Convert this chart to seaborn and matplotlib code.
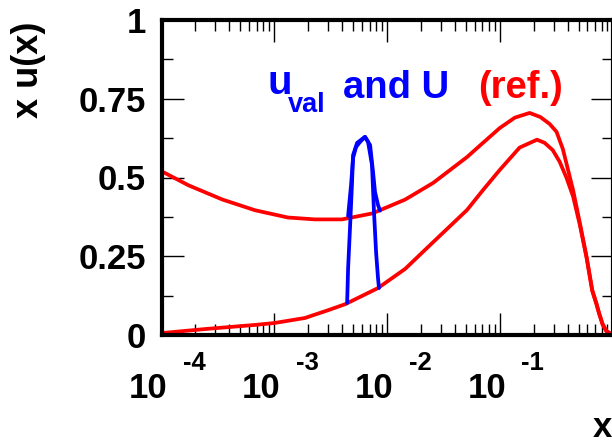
import matplotlib
matplotlib.use("Agg")
import matplotlib.pyplot as plt
from matplotlib.ticker import FixedLocator, FixedFormatter, LogLocator, NullFormatter, MultipleLocator
from matplotlib.transforms import ScaledTranslation
import pandas as pd
import seaborn as sns

# Reference curve U: upper and lower edge of the band
UPPER_X = [1.0e-4, 1.74e-4, 3.47e-4, 6.76e-4, 1.32e-3, 2.29e-3, 3.98e-3, 7.41e-3, 1.45e-2,
           2.57e-2, 5.13e-2, 0.071, 0.100, 0.136, 0.184, 0.229, 0.277, 0.319, 0.363, 0.447,
           0.513, 0.589, 0.661, 0.721, 0.760, 0.817, 0.883, 0.977]
UPPER_Y = [0.52, 0.475, 0.43, 0.396, 0.373, 0.367, 0.367, 0.386, 0.43,
           0.483, 0.565, 0.61, 0.657, 0.69, 0.705, 0.692, 0.67, 0.645, 0.59, 0.46,
           0.356, 0.248, 0.143, 0.10, 0.07, 0.035, 0.013, 0.003]
LOWER_X = [1.0e-4, 2.45e-4, 6.76e-4, 1.0e-3, 1.87e-3, 3.02e-3, 4.27e-3, 8.32e-3, 1.45e-2,
           2.57e-2, 5.13e-2, 0.071, 0.100, 0.150, 0.214, 0.250, 0.295, 0.340, 0.390, 0.447,
           0.513, 0.589, 0.661, 0.721, 0.760, 0.817, 0.883, 0.977]
LOWER_Y = [0.006, 0.019, 0.032, 0.038, 0.054, 0.079, 0.098, 0.149, 0.21,
           0.295, 0.397, 0.46, 0.524, 0.595, 0.62, 0.61, 0.587, 0.55, 0.50, 0.44,
           0.35, 0.245, 0.14, 0.097, 0.068, 0.033, 0.012, 0.002]

# u_val band (two edges)
VAL_A_X = [4.43e-3, 4.52e-3, 4.71e-3, 4.90e-3, 5.00e-3, 5.43e-3, 6.38e-3, 6.79e-3, 7.36e-3,
           7.67e-3, 8.00e-3, 8.32e-3, 8.49e-3]
VAL_A_Y = [0.102, 0.213, 0.349, 0.486, 0.571, 0.610, 0.629, 0.613, 0.540,
           0.390, 0.263, 0.181, 0.149]
VAL_B_X = [4.52e-3, 4.80e-3, 5.00e-3, 5.32e-3, 5.77e-3, 6.38e-3, 7.08e-3, 7.52e-3, 7.83e-3,
           8.32e-3, 8.67e-3]
VAL_B_Y = [0.378, 0.476, 0.562, 0.597, 0.613, 0.629, 0.603, 0.517, 0.454,
           0.413, 0.395]

Y_TICKS = [0, 0.25, 0.5, 0.75, 1]
Y_TICK_LABELS = ['0', '0.25', '0.5', '0.75', '1']
X_TICKS = [1e-4, 1e-3, 1e-2, 1e-1]
X_EXPONENTS = ['-4', '-3', '-2', '-1']

RED = '#ff0000'
BLUE = '#0000ff'
W, H = 612, 443

sns.set_theme(style='ticks')
plt.rcParams['font.family'] = ['Liberation Sans', 'DejaVu Sans']
plt.rcParams['font.weight'] = 'bold'
for key in ['text.color', 'axes.labelcolor', 'xtick.color', 'ytick.color', 'axes.edgecolor']:
    plt.rcParams[key] = 'black'

fig = plt.figure(figsize=(W / 100, H / 100), dpi=100)
ax = fig.add_axes([161.5 / W, 1 - 335 / H, 451 / W, 315 / H])


def px(x, y):
    return x / W, 1 - y / H


for xs, ys, color in [(UPPER_X, UPPER_Y, RED), (LOWER_X, LOWER_Y, RED),
                      (VAL_A_X, VAL_A_Y, BLUE), (VAL_B_X, VAL_B_Y, BLUE)]:
    df = pd.DataFrame({'x': xs, 'y': ys})
    sns.lineplot(data=df, x='x', y='y', color=color, linewidth=2.7, sort=False,
                 estimator=None, ax=ax, solid_capstyle='round', solid_joinstyle='round')

ax.set_xscale('log')
ax.set_xlim(1e-4, 1)
ax.set_ylim(0, 1)

ax.xaxis.set_major_locator(FixedLocator(X_TICKS))
ax.xaxis.set_major_formatter(FixedFormatter(['10'] * len(X_TICKS)))
ax.xaxis.set_minor_locator(LogLocator(base=10, subs=range(2, 10)))
ax.xaxis.set_minor_formatter(NullFormatter())
ax.yaxis.set_major_locator(FixedLocator(Y_TICKS))
ax.yaxis.set_major_formatter(FixedFormatter(Y_TICK_LABELS))
ax.yaxis.set_minor_locator(MultipleLocator(0.125))

for s in ax.spines.values():
    s.set_linewidth(3)
    s.set_color('black')

ax.tick_params(which='both', direction='in', top=True, right=True, width=1, color='black')
ax.tick_params(which='major', length=16)
ax.tick_params(which='minor', length=8)
ax.tick_params(axis='x', which='major', labelsize=25, pad=27)
ax.tick_params(axis='y', which='major', labelsize=25, pad=11)

for lbl in ax.get_xticklabels():
    lbl.set_fontweight('bold')
    lbl.set_transform(lbl.get_transform() + ScaledTranslation(-0.13, 0, fig.dpi_scale_trans))
for lbl in ax.get_yticklabels():
    lbl.set_fontweight('bold')

for xt, exp in zip(X_TICKS, X_EXPONENTS):
    ax.annotate(exp, xy=(xt, 0), xycoords=('data', 'axes fraction'), xytext=(23.8, -25.2),
                textcoords='offset points', ha='center', va='baseline',
                fontsize=18.5, fontweight='bold', annotation_clip=False)

ax.set_xlabel('x', fontsize=25, fontweight='bold', ha='right', va='baseline')
ax.xaxis.set_label_coords(1.0, -(437 - 335) / 315)
ax.set_ylabel('x u(x)', fontsize=26, fontweight='bold', ha='right', va='baseline')
ax.yaxis.set_label_coords((38 - 161.5) / 451, (335 - 22) / 315)

fig.text(*px(267, 94), 'u', color=BLUE, fontsize=29, fontweight='bold', va='baseline')
fig.text(*px(288, 112), 'val', color=BLUE, fontsize=19.5, fontweight='bold', va='baseline')
fig.text(*px(343, 98), 'and U', color=BLUE, fontsize=27.5, fontweight='bold', va='baseline')
fig.text(*px(478, 98), '(ref.)', color=RED, fontsize=27.5, fontweight='bold', va='baseline')

fig.savefig('out.png', dpi=100, facecolor='white')
